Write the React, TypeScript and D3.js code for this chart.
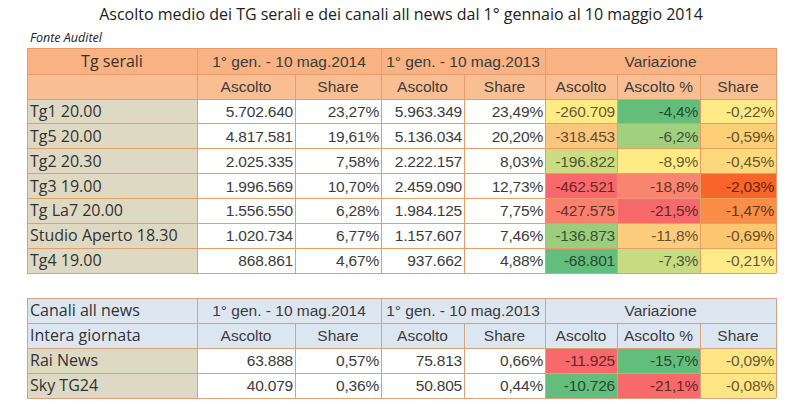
import * as d3 from "d3"

// ---- data ----
const TITLE = "Ascolto medio dei TG serali e dei canali all news dal 1° gennaio al 10 maggio 2014"
const SOURCE = "Fonte Auditel"
const PERIOD_2014 = "1° gen. - 10 mag.2014"
const PERIOD_2013 = "1° gen. - 10 mag.2013"
const VARIAZIONE = "Variazione"
const SUB_HEADERS = ["Ascolto", "Share", "Ascolto", "Share", "Ascolto", "Ascolto %", "Share"]

const tgLabels = ["Tg1 20.00", "Tg5 20.00", "Tg2 20.30", "Tg3 19.00", "Tg La7 20.00", "Studio Aperto 18.30", "Tg4 19.00"]
const tgAscolto2014 = [5702640, 4817581, 2025335, 1996569, 1556550, 1020734, 868861]
const tgShare2014 = [23.27, 19.61, 7.58, 10.70, 6.28, 6.77, 4.67]
const tgAscolto2013 = [5963349, 5136034, 2222157, 2459090, 1984125, 1157607, 937662]
const tgShare2013 = [23.49, 20.20, 8.03, 12.73, 7.75, 7.46, 4.88]
const tgVarAscolto = [-260709, -318453, -196822, -462521, -427575, -136873, -68801]
const tgVarAscoltoPct = [-4.4, -6.2, -8.9, -18.8, -21.5, -11.8, -7.3]
const tgVarShare = [-0.22, -0.59, -0.45, -2.03, -1.47, -0.69, -0.21]

const newsLabels = ["Rai News", "Sky TG24"]
const newsAscolto2014 = [63888, 40079]
const newsShare2014 = [0.57, 0.36]
const newsAscolto2013 = [75813, 50805]
const newsShare2013 = [0.66, 0.44]
const newsVarAscolto = [-11925, -10726]
const newsVarAscoltoPct = [-15.7, -21.1]
const newsVarShare = [-0.09, -0.08]

// ---- layout ----
const COLS = [27, 197, 295, 381, 464, 545, 617, 700, 776]
const RED = "#F8696B", YELLOW = "#FFEB84", GREEN = "#63BE7B"

const it = d3.formatLocale({ decimal: ",", thousands: ".", grouping: [3], currency: ["€", ""], minus: "-" })
const fInt = it.format(",d")
const fPct2 = (v: number) => it.format(".2f")(v) + "%"
const fPct1 = (v: number) => it.format(".1f")(v) + "%"

const NUM_FONT = "'Liberation Sans', Arial, sans-serif"
const LBL_FONT = "'Open Sans', sans-serif"
const TXT = "#3c3c3c"
const NUM_SIZE = 15.5
const LBL_SIZE = 16

function threeColor(values: number[]) {
  const mid = d3.median(values) as number
  return d3.scaleLinear<string>()
    .domain([d3.min(values) as number, mid, d3.max(values) as number])
    .range([RED, YELLOW, GREEN]).interpolate(d3.interpolateRgb)
}
function twoColor(values: number[]) {
  return d3.scaleLinear<string>()
    .domain(d3.extent(values) as [number, number])
    .range([RED, GREEN]).interpolate(d3.interpolateRgb)
}
function shareColor(values: number[]) {
  const [lo, hi] = d3.extent(values) as [number, number]
  if (lo === hi || hi - lo < 0.05) return () => "#FFE584"
  return d3.scaleLinear<string>().domain([lo, hi]).range(["#F8642A", "#FFEB88"])
}

type TableProps = {
  top: number
  headH: [number, number]
  bottom: number
  labels: string[]
  cols: number[][]
  fills: ((v: number) => string | null)[]
  headFill: [string, string]
  labelFill: string
  border: string
  corner: [string, string]
  cornerAlign: "middle" | "start"
  fmts: ((v: number) => string)[]
}

function Table(p: TableProps) {
  const h1 = p.top, h2 = p.top + p.headH[0], bodyTop = h2 + p.headH[1]
  const y = d3.scaleBand<number>().domain(d3.range(p.labels.length)).range([bodyTop, p.bottom])
  const x0 = COLS[0], xEnd = COLS[COLS.length - 1]
  const bw = y.bandwidth()
  const cells: any[] = []
  // header backgrounds
  cells.push(<rect key="hb1" x={x0} y={h1} width={xEnd - x0} height={p.headH[0]} fill={p.headFill[0]} />)
  cells.push(<rect key="hb2" x={x0} y={h2} width={xEnd - x0} height={p.headH[1]} fill={p.headFill[1]} />)
  // body
  p.labels.forEach((lab, r) => {
    const yy = y(r) as number
    cells.push(<rect key={"lf" + r} x={x0} y={yy} width={COLS[1] - x0} height={bw} fill={p.labelFill} />)
    cells.push(<text key={"lt" + r} x={x0 + 3} y={yy + bw / 2 + 5.5} fontFamily={LBL_FONT} fontSize={LBL_SIZE} fill="#333">{lab}</text>)
    p.cols.forEach((col, c) => {
      const v = col[r]
      const xa = COLS[c + 1], xb = COLS[c + 2]
      const heat = p.fills[c](v)
      const bg = heat || "#ffffff"
      const tc = heat ? (d3.color(bg) as any).darker(2.6).formatHex() : TXT
      cells.push(<rect key={"cb" + r + "_" + c} x={xa} y={yy} width={xb - xa} height={bw} fill={bg} />)
      cells.push(<text key={"ct" + r + "_" + c} x={xb - 2} y={yy + bw / 2 + 5.5} textAnchor="end" fontFamily={NUM_FONT} fontSize={NUM_SIZE} fill={tc} letterSpacing={-0.2}>{p.fmts[c](v)}</text>)
    })
  })
  // grid lines
  const lines: any[] = []
  const hs = [h1, h2, ...p.labels.map((_, r) => y(r) as number), p.bottom]
  hs.forEach((yy, i) => lines.push(<line key={"h" + i} x1={x0} x2={xEnd} y1={yy} y2={yy} />))
  COLS.forEach((xx, i) => {
    const inner = i === 2 || i === 4 || i === 6 || i === 7
    lines.push(<line key={"v" + i} x1={xx} x2={xx} y1={inner ? h2 : h1} y2={p.bottom} />)
  })
  const hc1 = h1 + p.headH[0] / 2 + 5.5, hc2 = h2 + p.headH[1] / 2 + 5.5
  const mid = (a: number, b: number) => (COLS[a] + COLS[b]) / 2
  const cornerX = p.cornerAlign === "middle" ? mid(0, 1) : x0 + 3
  return (
    <g>
      {cells}
      <text x={cornerX} y={hc1} textAnchor={p.cornerAlign} fontFamily={LBL_FONT} fontSize={LBL_SIZE} fill="#333">{p.corner[0]}</text>
      <text x={cornerX} y={hc2} textAnchor={p.cornerAlign} fontFamily={LBL_FONT} fontSize={LBL_SIZE} fill="#333">{p.corner[1]}</text>
      <text x={mid(1, 3)} y={hc1} textAnchor="middle" fontFamily={NUM_FONT} fontSize={NUM_SIZE} fill={TXT}>{PERIOD_2014}</text>
      <text x={mid(3, 5)} y={hc1} textAnchor="middle" fontFamily={NUM_FONT} fontSize={NUM_SIZE} fill={TXT}>{PERIOD_2013}</text>
      <text x={mid(5, 8)} y={hc1} textAnchor="middle" fontFamily={NUM_FONT} fontSize={NUM_SIZE} fill={TXT}>{VARIAZIONE}</text>
      {SUB_HEADERS.map((s, i) => (
        <text key={"sh" + i} x={mid(i + 1, i + 2)} y={hc2} textAnchor="middle" fontFamily={NUM_FONT} fontSize={NUM_SIZE} fill={TXT}>{s}</text>
      ))}
      <g stroke={p.border} strokeWidth={1} shapeRendering="crispEdges">{lines}</g>
    </g>
  )
}

export default function App() {
  const noFill = () => null
  const tgFills = [noFill, noFill, noFill, noFill,
    threeColor(tgVarAscolto), threeColor(tgVarAscoltoPct), shareColor(tgVarShare)]
  const newsFills = [noFill, noFill, noFill, noFill,
    twoColor(newsVarAscolto), twoColor(newsVarAscoltoPct), shareColor(newsVarShare)]
  const fmts = [fInt, fPct2, fInt, fPct2, fInt, fPct1, fPct2]
  return (
    <svg width={800} height={413} style={{ position: "fixed", left: 0, top: 0, background: "#fff" }}>
      <rect width={800} height={413} fill="#fff" />
      <text x={401} y={20} textAnchor="middle" fontFamily={LBL_FONT} fontSize={16} fill="#222">{TITLE}</text>
      <text x={30} y={42} fontFamily={LBL_FONT} fontSize={12.5} fontStyle="italic" fill="#222">{SOURCE}</text>
      <Table top={48} headH={[26, 25]} bottom={273} labels={tgLabels}
        cols={[tgAscolto2014, tgShare2014, tgAscolto2013, tgShare2013, tgVarAscolto, tgVarAscoltoPct, tgVarShare]}
        fills={tgFills as any} fmts={fmts}
        headFill={["#F8B284", "#FABE93"]} labelFill="#DDD9C3" border="#E89C68"
        corner={["Tg serali", ""]} cornerAlign="middle" />
      <Table top={298} headH={[25, 25]} bottom={398} labels={newsLabels}
        cols={[newsAscolto2014, newsShare2014, newsAscolto2013, newsShare2013, newsVarAscolto, newsVarAscoltoPct, newsVarShare]}
        fills={newsFills as any} fmts={fmts}
        headFill={["#DCE6F1", "#DCE6F1"]} labelFill="#DDD9C3" border="#D9A27C"
        corner={["Canali all news", "Intera giornata"]} cornerAlign="start" />
    </svg>
  )
}
